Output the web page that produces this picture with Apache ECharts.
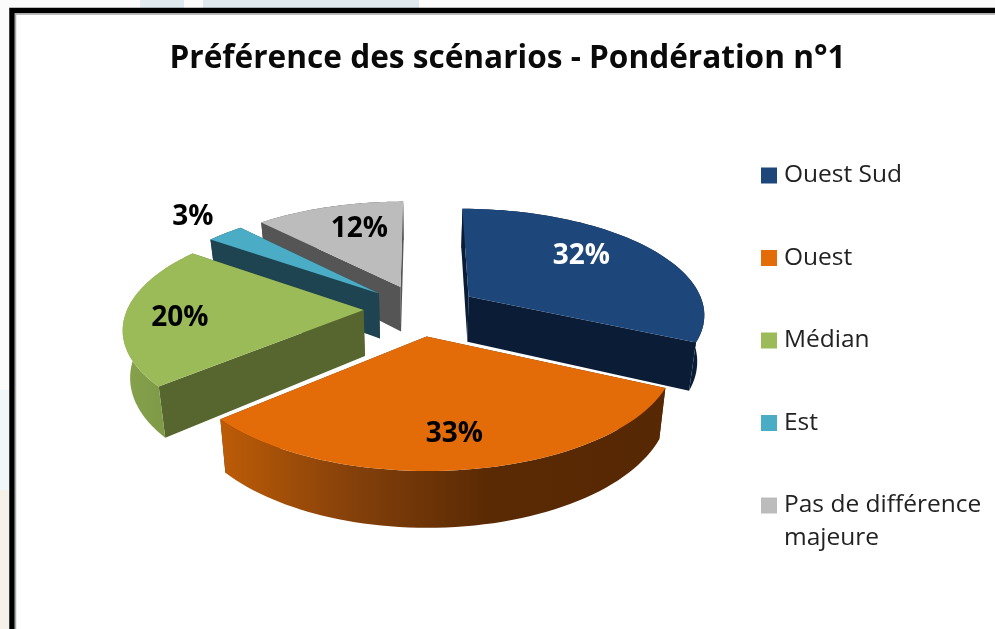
<!DOCTYPE html>
<html><head><meta charset="utf-8">
<style>html,body{margin:0;padding:0;background:#fff}#c{width:995px;height:629px;filter:blur(0.5px)}</style>
<script src="https://cdn.jsdelivr.net/npm/echarts@6/dist/echarts.min.js"></script>
</head><body><div id="c"></div>
<script>
const categories = ['Ouest Sud', 'Ouest', 'Médian', 'Est', 'Pas de différence majeure'];
const shares = [32, 33, 20, 3, 12];
const topColors = ['#1d467a', '#e36c09', '#9bbb59', '#4bacc6', '#bcbcbc'];
const wallColors = ['#0b1d36', '#5a2a04', '#56662e', '#1d4450', '#555555'];
const labelColors = ['#ffffff', '#000000', '#000000', '#000000', '#000000'];
const labelAngleShift = [-8, -2, -4, 2, 4.4];
const labelRadius = [0.70, 0.75, 0.77, 1.29, 0.70];
const drawOrder = [4, 3, 0, 2, 1];

const view = {cx: 421, cy: 310, rx: 236.5, ry: 105, persp: 0.153, explode: 0.243, depth: 46, bottomScale: 0.975};
const rad = d => d * Math.PI / 180;
const total = shares.reduce((a, b) => a + b, 0);
const starts = [];
shares.reduce((acc, v, i) => { starts[i] = acc; return acc + v; }, 0);
const warp = t => t - 5 * Math.exp(-Math.pow((t - 234) / 35, 2));
function project(x, y) {
  const s = 1 / (1 - view.persp * y);
  return [view.cx + view.rx * x * s, view.cy + view.ry * y * s, s];
}
function lower(p) {
  return [view.cx + (p[0] - view.cx) * view.bottomScale, p[1] + view.depth * p[2]];
}
function renderSlice(params, api) {
  const i = api.value(0);
  const a0 = starts[i] / total * 360, a1 = (starts[i] + shares[i]) / total * 360;
  const mid = rad((a0 + a1) / 2);
  const ox = Math.sin(mid) * view.explode, oy = -Math.cos(mid) * view.explode;
  const rim = [];
  for (let k = 0; k <= 60; k++) {
    const t = rad(warp(a0 + (a1 - a0) * k / 60));
    rim.push(project(ox + Math.sin(t), oy - Math.cos(t)));
  }
  const apex = project(ox, oy);
  const poly = (pts, fill) => ({type: 'polygon', shape: {points: pts.map(p => [p[0], p[1]])}, style: {fill: fill}, silent: true});
  const xyR = rim.map(lower);
  const outerFill = i === 1
    ? new echarts.graphic.LinearGradient(0, 0, 1, 0, [
        {offset: 0, color: '#bd5c07'}, {offset: 0.3, color: '#84400a'},
        {offset: 0.6, color: '#5a2a04'}, {offset: 1, color: '#562803'}])
    : i === 2
      ? new echarts.graphic.LinearGradient(0, 0, 1, 0, [
          {offset: 0, color: '#86a24c'}, {offset: 1, color: '#7a9444'}])
      : wallColors[i];
  const startWall = poly([apex, lower(apex), xyR[0], rim[0]], wallColors[i]);
  const endWall = poly([apex, lower(apex), xyR[60], rim[60]], wallColors[i]);
  const outerWall = poly(rim.concat(xyR.slice().reverse()), outerFill);
  const topFace = poly([apex].concat(rim), topColors[i]);
  const children = [startWall, endWall, outerWall, topFace];
  const lt = rad((a0 + a1) / 2 + labelAngleShift[i]);
  const lp = project(ox + labelRadius[i] * Math.sin(lt), oy - labelRadius[i] * Math.cos(lt));
  children.push({type: 'text', x: lp[0], y: lp[1] + 2, silent: true, style: {
    text: shares[i] + '%', align: 'center', verticalAlign: 'middle',
    fontFamily: '"Open Sans"', fontWeight: 700, fontSize: 28, fill: labelColors[i]}});
  return {type: 'group', children: children};
}
const chart = echarts.init(document.getElementById('c'), null, {renderer: 'canvas'});
chart.setOption({
  animation: false,
  backgroundColor: '#fbfbfb',
  title: {text: 'Préférence des scénarios - Pondération n°1', left: 502.5, top: 38, textAlign: 'center',
    textStyle: {fontFamily: '"Open Sans"', fontWeight: 700, fontSize: 31.6, color: '#0a0a0a'}},
  legend: {orient: 'vertical', left: 756, top: 158, itemWidth: 16, itemHeight: 16, itemGap: 57.5, icon: 'rect',
    selectedMode: false, data: categories,
    formatter: n => n.replace(' majeure', ''),
    textStyle: {fontFamily: '"Open Sans"', fontSize: 24.5, color: '#222', padding: [0, 0, 0, 2]}},
  graphic: [
    {type: 'rect', z: -2, silent: true, shape: {x: 140, y: 0, width: 44, height: 9}, style: {fill: '#dfe9ee'}},
    {type: 'rect', z: -2, silent: true, shape: {x: 203, y: 0, width: 216, height: 9}, style: {fill: '#dfe9ee'}},
    {type: 'rect', z: -2, silent: true, shape: {x: 0, y: 390, width: 9, height: 100}, style: {fill: '#f1f6f9'}},
    {type: 'rect', z: -2, silent: true, shape: {x: 0, y: 490, width: 9, height: 139}, style: {fill: '#f6f1e8'}},
    {type: 'rect', z: -1, silent: true, shape: {x: 12, y: 10.5, width: 1000, height: 700}, style: {fill: '#fff', stroke: '#000', lineWidth: 5.5}},
    {type: 'polyline', z: -1, silent: true, shape: {points: [[15.5, 640], [15.5, 14], [1000, 14]]}, style: {fill: null, stroke: '#a8a8a8', lineWidth: 1.5}},
    {type: 'text', left: 784, top: 526, style: {text: 'majeure', fontFamily: '"Open Sans"', fontSize: 24.5, fill: '#222'}}
  ],
  series: drawOrder.map(i => ({
    type: 'custom', name: categories[i], coordinateSystem: 'none',
    itemStyle: {color: topColors[i]}, renderItem: renderSlice,
    data: [[i, shares[i]]], encode: {value: 1}
  }))
});
</script></body></html>
